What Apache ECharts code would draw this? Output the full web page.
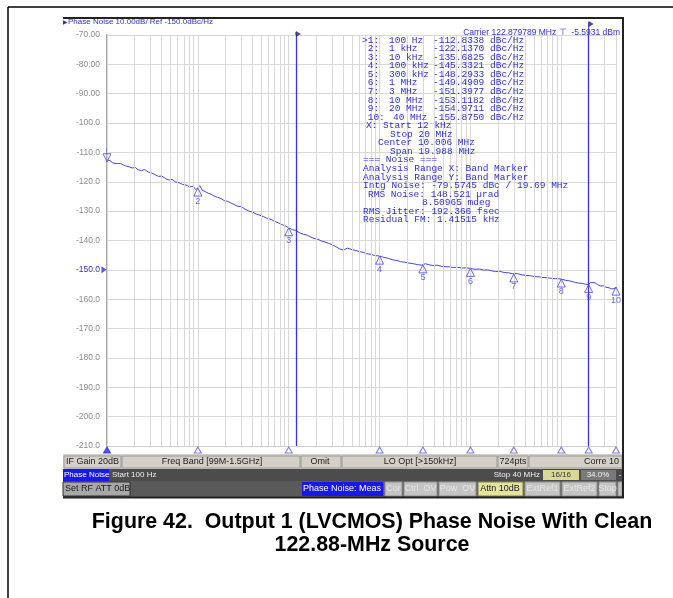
<!DOCTYPE html>
<html>
<head>
<meta charset="utf-8">
<script src="https://cdn.jsdelivr.net/npm/echarts@6/dist/echarts.min.js"></script>
<style>
  html, body { margin: 0; padding: 0; background: #fff; }
  #chart { width: 673px; height: 598px; }
</style>
</head>
<body>
<div id="chart"></div>
<script>
// trace: offset frequency (Hz) and phase noise (dBc/Hz)
const freqs = [
  100, 102, 105, 110, 115, 120, 130, 140, 150, 160, 175, 190, 205, 220, 240, 260, 285, 310, 340, 370,
  400, 440, 480, 520, 570, 620, 680, 740, 810, 880, 950,
  1000, 1050, 1120, 1200, 1300, 1400, 1500, 1650, 1800, 1950, 2100, 2300, 2500, 2700, 3000, 3300, 3600,
  4000, 4400, 4800, 5300, 5800, 6400, 7000, 7700, 8500, 9300,
  10000, 11000, 12000, 13000, 14500, 16000, 17500, 19000, 21000, 23000, 25000, 27500, 30000, 33000, 36000,
  40000, 44000, 46000, 50000, 55000, 60000, 66000, 72000, 80000, 88000,
  100000, 110000, 125000, 140000, 155000, 170000, 190000, 210000, 235000, 260000, 290000, 300000, 320000,
  350000, 390000, 430000, 480000, 530000, 590000, 650000, 720000, 800000, 900000,
  1000000, 1100000, 1250000, 1400000, 1550000, 1700000, 1900000, 2100000, 2350000, 2600000, 2900000,
  3000000, 3300000, 3700000, 4100000, 4600000, 5100000, 5700000, 6300000, 7000000, 7800000, 8700000,
  10000000, 11000000, 12500000, 14000000, 15500000, 17000000, 18500000, 20000000, 21000000, 22000000,
  23500000, 25000000, 27000000, 29000000, 31000000, 33500000, 36000000, 38000000, 40000000
];
const noise = [
  -108.5, -112.6, -113.2, -112.9, -113.6, -113.3, -113.8, -113.7, -114.2, -114.6, -114.9, -115.3, -115.1, -115.9, -116.2, -115.8, -116.7, -117.0, -117.6, -118.2,
  -118.0, -118.9, -119.4, -119.2, -120.1, -120.3, -120.9, -121.1, -121.7, -121.6, -122.6,
  -122.1, -121.3, -122.9, -123.3, -123.9, -124.2, -124.8, -125.3, -125.7, -126.4, -126.6, -127.2, -127.7, -128.3, -128.4, -129.3, -129.9,
  -130.3, -131.0, -131.4, -131.9, -132.5, -132.8, -133.5, -134.0, -134.6, -135.1,
  -135.7, -136.3, -136.6, -137.3, -137.9, -138.2, -138.8, -139.3, -139.6, -140.2, -140.5, -141.0, -141.4, -142.1, -142.8,
  -143.3, -142.6, -142.4, -143.1, -143.4, -143.8, -144.0, -144.5, -144.7, -145.1,
  -145.3, -145.7, -146.1, -146.6, -146.8, -147.2, -147.4, -147.7, -147.9, -148.2, -148.4, -148.3, -147.9,
  -148.3, -148.5, -148.4, -148.8, -148.9, -149.0, -149.2, -149.1, -149.4, -149.3,
  -149.5, -149.8, -149.7, -150.1, -150.0, -150.3, -150.6, -150.5, -150.9, -151.0, -151.3,
  -151.4, -151.3, -151.7, -151.9, -152.0, -152.3, -152.4, -152.6, -152.7, -152.9, -153.0,
  -153.1, -153.5, -153.8, -154.2, -154.5, -154.6, -154.9, -155.0, -154.3, -154.0,
  -154.4, -155.0, -155.5, -155.4, -155.9, -156.1, -156.5, -156.4, -156.0
];

// markers 1..10
const markerFreqs = [100, 1e3, 1e4, 1e5, 3e5, 1e6, 3e6, 1e7, 2e7, 4e7];
const markerValues = [-112.8338, -122.1370, -135.6825, -145.3321, -148.2933, -149.4909, -151.3977, -153.1182, -154.9711, -155.8750];
const markerFreqLabels = ['100 Hz', '1 kHz', '10 kHz', '100 kHz', '300 kHz', '1 MHz', '3 MHz', '10 MHz', '20 MHz', '40 MHz'];

// integration band (blue vertical lines) and how far each sticks out above the grid (px)
const bandFreqs = [12e3, 20e6];
const bandStub = [3, 13];

const yMin = -210, yMax = -70, yStep = 10;
const refLevel = -150;

const noiseLines = [
  [366, 'X: Start 12 kHz'],
  [390, 'Stop 20 MHz'],
  [378, 'Center 10.006 MHz'],
  [390, 'Span 19.988 MHz'],
  [363, '=== Noise ==='],
  [363, 'Analysis Range X: Band Marker'],
  [363, 'Analysis Range Y: Band Marker'],
  [363, 'Intg Noise: -79.5745 dBc / 19.69 MHz'],
  [368, 'RMS Noise: 148.521 \u00b5rad'],
  [422, '8.50965 mdeg'],
  [363, 'RMS Jitter: 192.366 fsec'],
  [363, 'Residual FM: 1.41515 kHz']
];

const blue = '#4646d6';
const textBlue = '#3030d0';
const bandBlue = '#3434e8';
const mono = '9.5px "Liberation Mono"';
const small = '8px "Liberation Sans"';
const ui = '9px "Liberation Sans"';
const uiSmall = '8px "Liberation Sans"';
const caption = 'bold 21.4px "Liberation Sans"';

// log grid: 1..9 per decade
const gridFreqs = [];
for (let d = 100; d <= 1e7; d *= 10) {
  for (let k = 1; k <= 9; k++) {
    if (d * k <= 4e7) gridFreqs.push(d * k);
  }
}
gridFreqs.push(4e7);

const chart = echarts.init(document.getElementById('chart'));

function txt(x, y, text, font, fill, align) {
  return {
    type: 'text', x: x, y: y, z: 50, silent: true,
    style: { text: text, font: font, fill: fill, align: align || 'left', verticalAlign: 'middle' }
  };
}
function rect(x, y, w, h, fill, stroke) {
  return {
    type: 'rect', z: 40, silent: true,
    shape: { x: x, y: y, width: w, height: h },
    style: { fill: fill, stroke: stroke || null, lineWidth: 1 }
  };
}
function line(x1, y1, x2, y2, color, w) {
  return {
    type: 'line', z: 60, silent: true,
    shape: { x1: x1, y1: y1, x2: x2, y2: y2 },
    style: { stroke: color, lineWidth: w }
  };
}

const graphics = [];
// page frame
graphics.push(line(8, 7, 673, 7, '#000', 1.5));
graphics.push(line(8, 7, 8, 598, '#000', 1.5));
// screenshot frame
graphics.push(line(63, 18, 624, 18, '#222', 2));
graphics.push(line(623, 18, 623, 498, '#222', 2));

// header texts
graphics.push(txt(63, 22, '\u25b6', '6px "DejaVu Sans"', textBlue));
graphics.push(txt(68, 22, 'Phase Noise 10.00dB/ Ref -150.0dBc/Hz', small, textBlue));
graphics.push(txt(620, 33, 'Carrier 122.879789 MHz \u22a4  -5.5931 dBm', '8.5px "Liberation Sans"', textBlue, 'right'));

// marker table
const rowH = 8.57, row0 = 40;
markerFreqLabels.forEach(function (lab, i) {
  const y = row0 + i * rowH;
  graphics.push(txt(362, y, (i === 0 ? '>' : ' ') + (i + 1) + ':', mono, textBlue));
  graphics.push(txt(i === 9 ? 393 : 389, y, lab, mono, textBlue));
  graphics.push(txt(433, y, markerValues[i].toFixed(4) + ' dBc/Hz', mono, textBlue));
});
noiseLines.forEach(function (l, i) {
  graphics.push(txt(l[0], row0 + (10 + i) * rowH, l[1], mono, textBlue));
});

// status row 1
graphics.push(rect(63, 454, 560, 15, '#d4d0c8'));
const cells = [[64, 121], [122, 300], [301, 341], [342, 497], [498, 528], [529, 622]];
cells.forEach(function (c) { graphics.push(rect(c[0], 456, c[1] - c[0], 12, '#d4d0c8', '#9a9a9a')); });
graphics.push(txt(66, 462, 'IF Gain 20dB', ui, '#222'));
graphics.push(txt(212, 462, 'Freq Band [99M-1.5GHz]', ui, '#222', 'center'));
graphics.push(txt(320, 462, 'Omit', ui, '#222', 'center'));
graphics.push(txt(420, 462, 'LO Opt [>150kHz]', ui, '#222', 'center'));
graphics.push(txt(513, 462, '724pts', ui, '#222', 'center'));
graphics.push(txt(619, 462, 'Corre 10', ui, '#222', 'right'));

// status row 2
graphics.push(rect(63, 469, 560, 12, '#4c4c4c'));
graphics.push(rect(63, 469, 46, 12, '#1818e8'));
graphics.push(txt(64, 475, 'Phase Noise', uiSmall, '#fff'));
graphics.push(txt(112, 475, 'Start 100 Hz', uiSmall, '#f0f0f0'));
graphics.push(txt(540, 475, 'Stop 40 MHz', uiSmall, '#f0f0f0', 'right'));
graphics.push(rect(543, 470, 36, 10, '#d8d89a'));
graphics.push(txt(561, 475, '16/16', uiSmall, '#333', 'center'));
graphics.push(rect(581, 470, 35, 10, '#7a7a7a'));
graphics.push(txt(598, 475, '34.0%', uiSmall, '#f0f0f0', 'center'));
graphics.push(txt(620, 475, '-', uiSmall, '#f0f0f0', 'center'));

// status row 3
graphics.push(rect(63, 481, 560, 16, '#5a5a5a'));
graphics.push(rect(63, 482, 67, 14, '#a8a8a8', '#303030'));
graphics.push(txt(65, 489, 'Set RF ATT 0dB', ui, '#1a1a1a'));
graphics.push(rect(302, 482, 81, 14, '#1818e8'));
graphics.push(txt(342, 489, 'Phase Noise: Meas', ui, '#fff', 'center'));
const btns = [[385, 402, 'Cor'], [404, 437, 'Ctrl  OV'], [439, 476, 'Pow  OV'], [525, 560, 'ExtRef1'], [562, 597, 'ExtRef2'], [599, 616, 'Stop'], [618, 622, '']];
btns.forEach(function (b) {
  graphics.push(rect(b[0], 482, b[1] - b[0], 14, '#c4c4c4', '#909090'));
  graphics.push(txt((b[0] + b[1]) / 2, 489, b[2], ui, '#e6e6e6', 'center'));
});
graphics.push(rect(478, 482, 45, 14, '#e4e49c', '#808040'));
graphics.push(txt(500, 489, 'Attn 10dB', ui, '#222', 'center'));
graphics.push(line(63, 497.5, 624, 497.5, '#222', 2));

// caption
graphics.push(txt(372, 522, 'Figure 42.  Output 1 (LVCMOS) Phase Noise With Clean', caption, '#000', 'center'));
graphics.push(txt(372, 545, '122.88-MHz Source', caption, '#000', 'center'));

const option = {
  animation: false,
  backgroundColor: '#fff',
  grid: { left: 107, top: 35, width: 509, height: 411, containLabel: false },
  xAxis: {
    type: 'log', logBase: 10, min: 100, max: 4e7,
    axisLine: { show: true, lineStyle: { color: '#cfcfcf', width: 1 } },
    axisTick: { show: false },
    axisLabel: { show: false },
    splitLine: { show: false }
  },
  yAxis: {
    type: 'value', min: yMin, max: yMax, interval: yStep,
    axisLine: { show: true, lineStyle: { color: '#a8a8a8', width: 2 } },
    axisTick: { show: false },
    splitLine: { show: true, lineStyle: { color: '#d8d8d8', width: 1 } },
    axisLabel: {
      margin: 7,
      fontFamily: 'Liberation Sans', fontSize: 8.5, color: '#8c8c8c',
      formatter: function (v) {
        if (v === refLevel) return '{ref|' + v.toFixed(1) + '}';
        return v >= -90 ? v.toFixed(2) : v.toFixed(1);
      },
      rich: { ref: { color: textBlue, fontFamily: 'Liberation Sans', fontSize: 8.5 } }
    }
  },
  graphic: graphics,
  series: [
    {
      // log grid lines
      type: 'line', data: [], silent: true, z: 1,
      markLine: {
        silent: true, symbol: ['none', 'none'], animation: false,
        label: { show: false },
        lineStyle: { color: '#d8d8d8', width: 1, type: 'solid' },
        data: gridFreqs.map(function (f) { return { xAxis: f }; })
      }
    },
    {
      // integration band lines
      type: 'line', data: [], silent: true, z: 3,
      markLine: {
        silent: true, symbol: ['none', 'none'], animation: false,
        label: { show: false },
        lineStyle: { color: bandBlue, width: 1.3, type: 'solid' },
        data: bandFreqs.map(function (f) { return { xAxis: f }; })
      }
    },
    {
      // part of the band lines above the grid
      type: 'scatter', silent: true, z: 3, clip: false,
      symbol: 'rect', itemStyle: { color: bandBlue },
      data: bandFreqs.map(function (f, i) {
        return { value: [f, yMax], symbolSize: [1.3, bandStub[i]], symbolOffset: [0, -bandStub[i] / 2] };
      })
    },
    {
      // band flags
      type: 'scatter', silent: true, z: 6, clip: false,
      symbol: 'path://M0,0L8,5L0,10Z', symbolSize: [5, 6],
      itemStyle: { color: '#202060' },
      data: bandFreqs.map(function (f, i) {
        return { value: [f, yMax], symbolOffset: [2.5, -bandStub[i] + 2] };
      })
    },
    {
      // reference level marker
      type: 'scatter', silent: true, z: 6, clip: false,
      symbol: 'path://M0,0L8,5L0,10Z', symbolSize: [5, 7], symbolOffset: [-3, 0],
      itemStyle: { color: textBlue },
      data: [[100, refLevel]]
    },
    {
      name: 'Phase Noise', type: 'line', z: 4,
      showSymbol: false, smooth: false,
      lineStyle: { color: blue, width: 1 },
      data: freqs.map(function (f, i) { return [f, noise[i]]; })
    },
    {
      // markers on the trace
      type: 'scatter', z: 5, clip: false, silent: true,
      symbol: 'triangle', symbolSize: [8, 8], symbolOffset: [0, 4],
      itemStyle: { color: 'rgba(255,255,255,0)', borderColor: blue, borderWidth: 1 },
      label: {
        show: true, position: 'bottom', distance: 0,
        fontFamily: 'Liberation Sans', fontSize: 9, color: blue,
        formatter: function (p) { return p.dataIndex === 0 ? '' : String(p.dataIndex + 1); }
      },
      data: markerFreqs.map(function (f, i) {
        const d = { value: [f, markerValues[i]] };
        if (i === 0) { d.symbolRotate = 180; d.symbolOffset = [0, -3]; }
        return d;
      })
    },
    {
      // marker ticks along the frequency axis
      type: 'scatter', z: 5, clip: false, silent: true,
      symbol: 'triangle', symbolSize: [7, 6], symbolOffset: [0, 4],
      itemStyle: { color: 'rgba(255,255,255,0)', borderColor: '#5a5ae0', borderWidth: 1 },
      data: markerFreqs.map(function (f, i) {
        const d = { value: [f, yMin] };
        if (i === 0) d.itemStyle = { color: '#2a2ae0', borderColor: '#2a2ae0' };
        return d;
      })
    }
  ]
};

chart.setOption(option);
</script>
</body>
</html>
